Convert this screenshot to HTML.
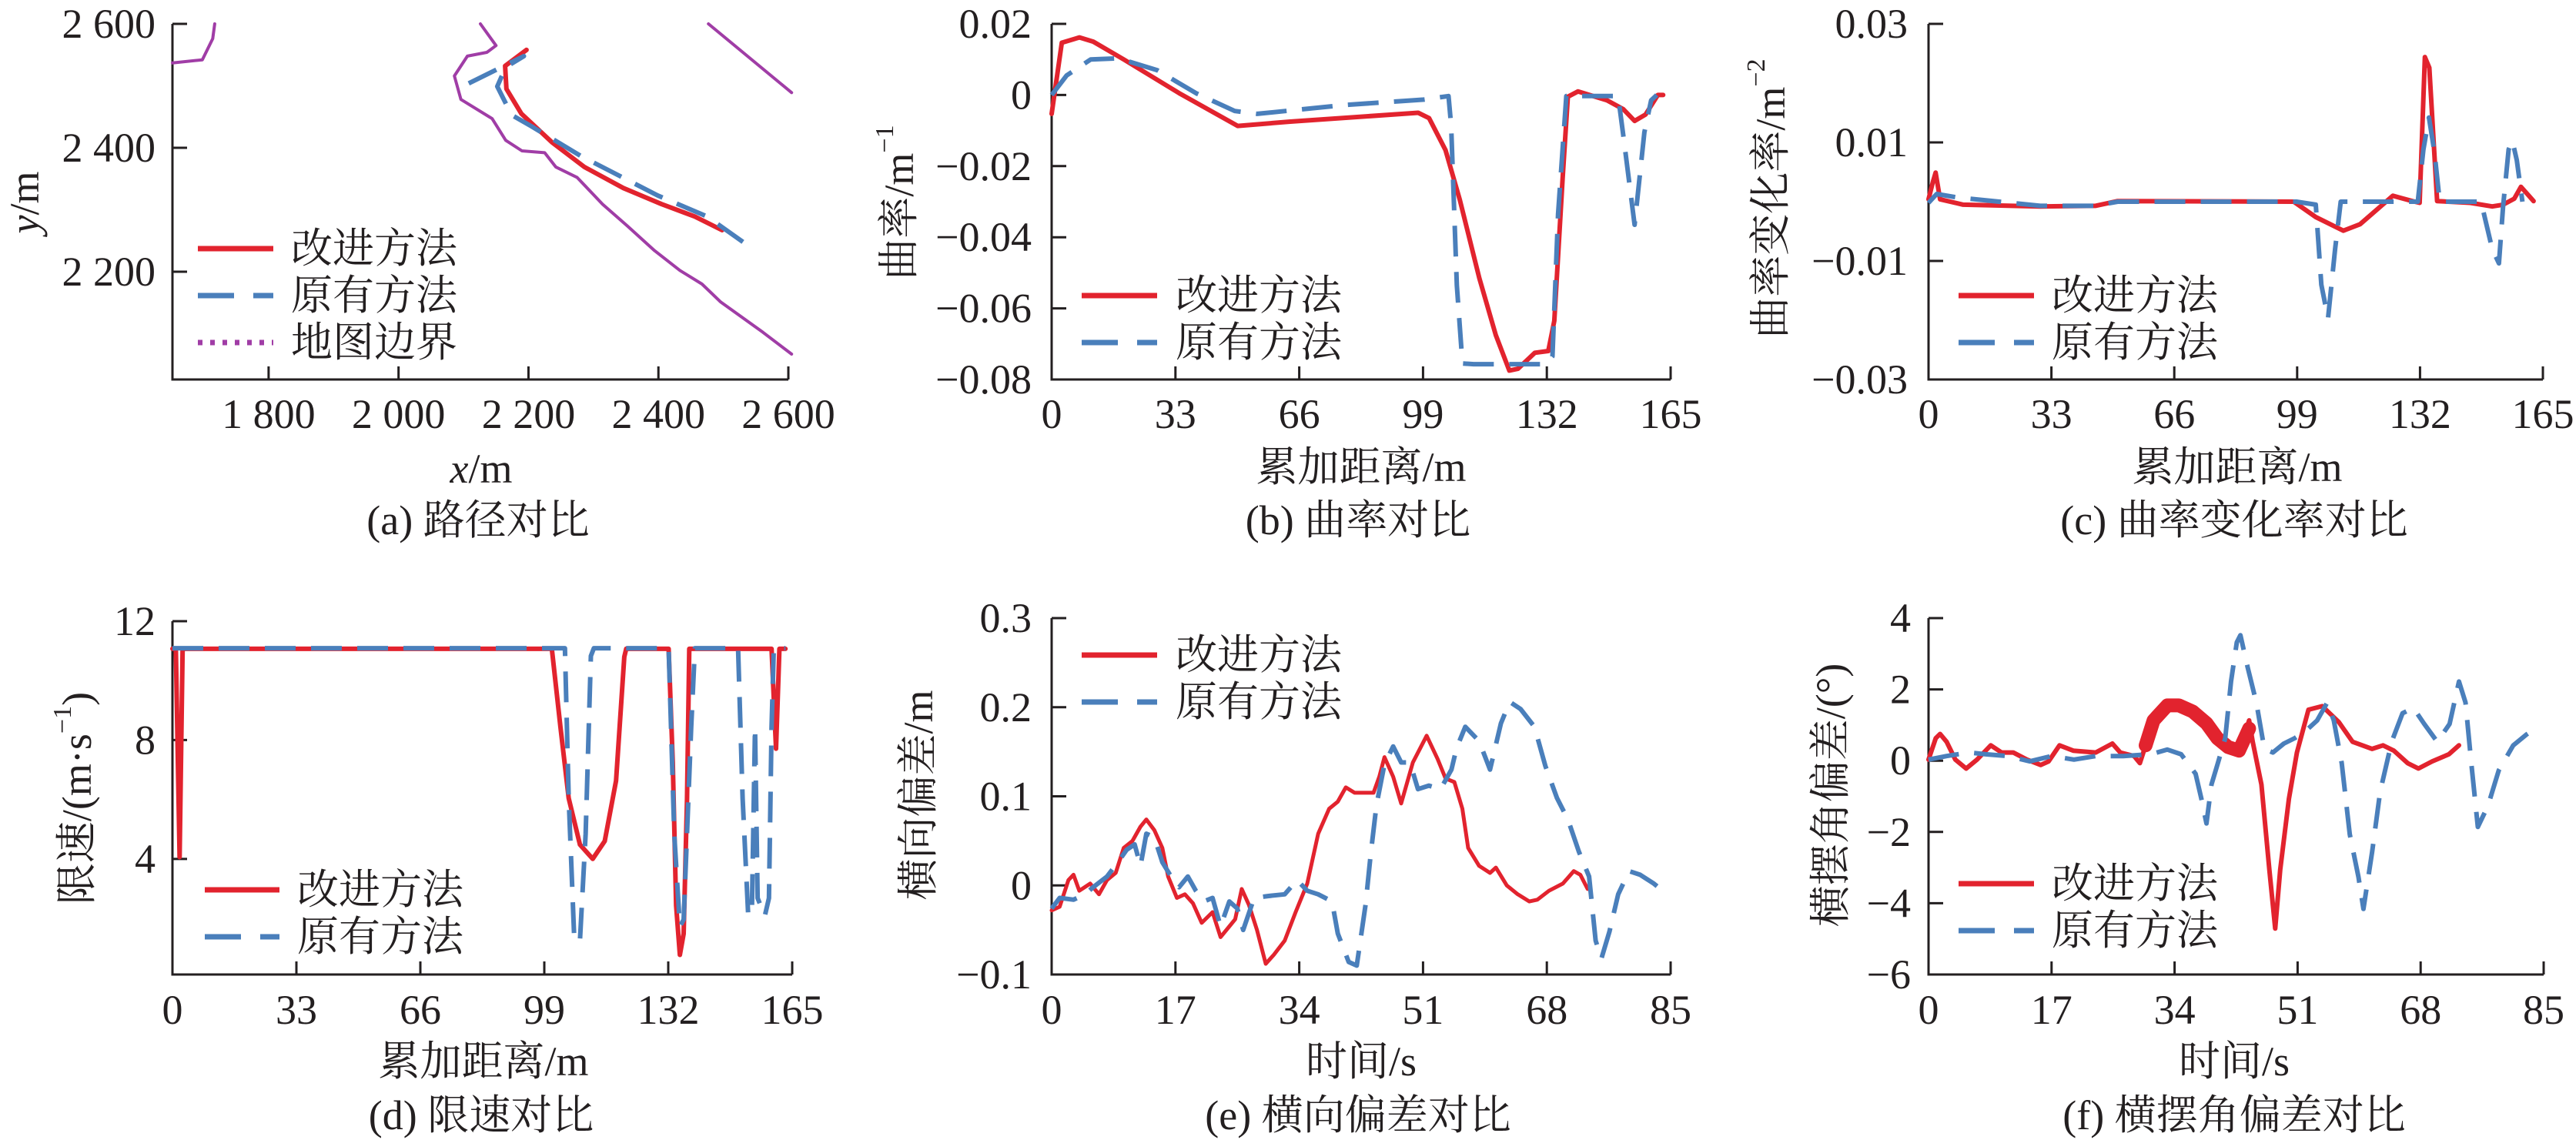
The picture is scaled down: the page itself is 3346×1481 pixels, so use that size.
<!DOCTYPE html>
<html><head><meta charset="utf-8">
<style>
html,body{margin:0;padding:0;background:#fff;}
svg{display:block;}
text{fill:#231f20;}
.tk{font-family:"Liberation Serif",serif;font-size:54px;}
.cj{font-family:"Liberation Serif","Noto Serif CJK SC",serif;font-size:54px;}
</style></head>
<body>
<svg id="fig" width="3346" height="1481" viewBox="0 0 3346 1481" xmlns="http://www.w3.org/2000/svg"></svg>
<script>
// ---------- Panel (a) path data ----------
const aRedX=[2197,2164,2166,2189,2236,2286,2346,2405,2456,2498];
const aRedY=[2558,2532,2495,2455,2409,2369,2335,2309,2289,2267];
const aBlueX=[2108,2193,2165,2152,2174,2204,2280,2399,2475,2545];
const aBlueY=[2504,2548,2530,2499,2453,2435,2387,2323,2289,2237];
const aB1X=[1652,1698,1714,1717];
const aB1Y=[2537,2542,2576,2600];
const aB2X=[2126,2150,2136,2106,2086,2096,2144,2165,2190,2225,2242,2275,2314,2352,2394,2433,2467,2496,2561,2605];
const aB2Y=[2600,2565,2554,2548,2516,2478,2447,2412,2395,2392,2369,2352,2309,2274,2234,2202,2180,2151,2102,2067];
const aB3X=[2477,2605];
const aB3Y=[2600,2489];
const aXTicks=[1800,2000,2200,2400,2600];
const aXLabels=["1 800","2 000","2 200","2 400","2 600"];
const aYTicks=[2200,2400,2600];
const aYLabels=["2 200","2 400","2 600"];
// ---------- Panel (b) curvature ----------
const bRedX=[0,2.7,7.4,11.1,19.2,34,49.6,63.6,97.7,100.6,105,108.8,114,118.4,122,124.3,128.8,132.4,134,136.2,137.6,140.3,148,152.4,155.4,158.3,161.6,163];
const bRedY=[-0.0053,0.0147,0.0162,0.015,0.010,0.0005,-0.0087,-0.0075,-0.005,-0.0065,-0.0155,-0.0295,-0.0515,-0.0675,-0.0775,-0.077,-0.0725,-0.072,-0.0635,-0.0235,-0.0005,0.001,-0.0015,-0.004,-0.0073,-0.0055,0,0];
const bBlueX=[0,4,10.4,17.8,28.1,38.5,48.8,54.8,78.4,99.2,105.8,106.5,108,109.5,112.5,131.7,133.5,135,137.2,151,152.4,155.4,158,159.8,161.3];
const bBlueY=[0,0.0055,0.010,0.0103,0.007,0.0005,-0.0045,-0.0053,-0.0028,-0.0013,-0.0003,-0.0085,-0.0535,-0.0755,-0.0757,-0.0757,-0.0735,-0.0335,-0.0003,-0.0003,-0.0115,-0.0365,-0.0105,-0.0015,0];
const distTicks=[0,33,66,99,132,165];
const bYTicks=[0.02,0,-0.02,-0.04,-0.06,-0.08];
const bYLabels=["0.02","0","\u22120.02","\u22120.04","\u22120.06","\u22120.08"];
// ---------- Panel (c) curvature rate ----------
const cRedX=[0,1.2,1.9,3.1,9.3,30,44.8,50.8,98.1,104,111.4,115.9,124.7,129.9,131.9,133.3,134.5,136.6,145.5,151.4,154.3,157.3,159.1,162.5];
const cRedY=[0.0004,0.0034,0.0049,0.0004,-0.0005,-0.0008,-0.0007,0.0001,0,-0.0026,-0.0049,-0.0038,0.001,0.0001,-0.0002,0.0244,0.0226,0.0001,-0.0002,-0.0008,-0.0005,0.0005,0.0025,0.0001];
const cBlueX=[0,2.2,7.8,30,44.8,50.8,98.8,104,105.5,107.3,109.2,110.7,131.4,132.9,134.4,135.9,137.3,148.4,151.4,153.2,154.3,155.8,156.8,158,159.5];
const cBlueY=[-0.0002,0.0013,0.0007,-0.0007,-0.0007,0,0,-0.0005,-0.014,-0.0197,-0.008,0,0,0.0088,0.0142,0.0082,0,0,-0.008,-0.0104,-0.0008,0.0088,0.0103,0.007,0];
const cYTicks=[0.03,0.01,-0.01,-0.03];
const cYLabels=["0.03","0.01","\u22120.01","\u22120.03"];
// ---------- Panel (d) speed limit ----------
const dRedX=[0,0.9,1.9,2.7,101,103.3,105.5,108.5,111.9,115.1,118.1,120.3,120.8,132.1,133.2,134.1,135.1,136.1,137,137.6,159.5,160.7,161.6,163.2];
const dRedY=[11.07,11.07,4.06,11.07,11.07,8.43,6.04,4.48,4.0,4.6,6.63,10.8,11.07,11.07,7.23,2.44,0.77,1.48,6.04,11.07,11.07,7.71,11.07,11.07];
const dBlueX=[0,104.5,105.5,107,108.5,110,111.4,112.2,132.1,133.6,135.1,136.1,138.1,139.1,150.6,151.8,153.3,154.3,155.1,155.8,157.7,158.8,159.5,160.1,163.2];
const dBlueY=[11.09,11.09,6.04,1.25,1.25,4.84,10.83,11.09,11.09,4.84,1.72,1.96,8.43,11.09,11.09,6.04,2.08,2.44,8.43,2.68,2.08,2.68,8.43,11.09,11.09];
const dYTicks=[4,8,12];
const dYLabels=["4","8","12"];
// ---------- Panel (e) lateral error ----------
const eRedX=[0,1.1,2.3,3.0,3.8,5.3,6.5,7.6,8.8,9.9,11.1,12.2,13.0,14.1,15.2,16.0,17.2,18.3,19.4,20.6,22.1,23.2,24.4,25.2,26.1,27.1,28.2,29.4,30.5,32.0,33.5,35.1,36.6,38.1,39.3,40.4,41.6,44.2,45.0,45.7,46.9,48.0,49.6,51.5,53.0,54.1,55.3,56.4,57.2,58.7,60.2,61.0,62.5,64.0,65.6,66.7,68.3,70.2,71.7,72.6,73.6];
const eRedY=[-0.028,-0.024,0.006,0.012,-0.006,0.002,-0.010,0.006,0.014,0.042,0.050,0.066,0.074,0.062,0.042,0.010,-0.014,-0.010,-0.020,-0.042,-0.030,-0.058,-0.046,-0.038,-0.004,-0.022,-0.050,-0.088,-0.078,-0.062,-0.030,0.002,0.058,0.086,0.094,0.110,0.104,0.104,0.122,0.144,0.122,0.092,0.138,0.168,0.142,0.120,0.116,0.086,0.042,0.022,0.014,0.020,0,-0.010,-0.018,-0.016,-0.006,0.002,0.016,0.012,-0.004];
const eBlueX=[0,1.1,3.0,4.6,5.7,7.6,9.1,10.3,11.4,12.2,13.0,14.1,15.2,16.4,17.5,18.7,19.8,20.9,22.1,23.2,24.4,25.5,26.3,27.8,29.7,32.0,33.7,35.1,36.6,38.5,39.3,40.8,41.9,43.1,43.8,44.6,45.7,46.9,48.0,49.2,50.3,51.8,53.4,54.9,55.6,56.8,58.7,60.2,61.7,62.9,64.4,66.3,67.8,69.4,70.9,72.4,73.8,74.7,75.5,76.6,77.8,79.3,80.8,82.7,84.5];
const eBlueY=[-0.026,-0.014,-0.016,-0.010,-0.002,0.010,0.026,0.040,0.046,0.022,0.058,0.054,0.026,0.010,-0.002,0.010,-0.006,-0.018,-0.014,-0.046,-0.018,-0.026,-0.050,-0.014,-0.012,-0.010,0.006,-0.006,-0.010,-0.018,-0.054,-0.086,-0.090,-0.022,0.034,0.090,0.136,0.156,0.138,0.138,0.108,0.112,0.108,0.130,0.154,0.178,0.162,0.130,0.182,0.206,0.198,0.178,0.134,0.098,0.074,0.038,0.010,-0.062,-0.082,-0.052,-0.010,0.016,0.012,0.002,-0.010];
const timeTicks=[0,17,34,51,68,85];
const eYTicks=[0.3,0.2,0.1,0,-0.1];
const eYLabels=["0.3","0.2","0.1","0","\u22120.1"];
// ---------- Panel (f) yaw error ----------
const fRedX=[0,1.0,1.6,2.5,3.7,5.2,6.7,8.6,10.1,11.7,13.6,15.5,16.6,18.1,20.0,23.1,25.4,26.5,28.4,29.2,30.0,31.1,33.0,34.6,36.5,38.4,39.9,41.4,42.9,44.3,44.8,46.0,47.1,47.9,48.6,49.8,50.9,52.5,54.4,56.7,58.6,61.3,62.8,64.3,66.2,67.7,69.6,71.9,73.3];
const fRedY=[0.03,0.63,0.75,0.53,0.03,-0.22,0.03,0.43,0.23,0.23,0.03,-0.12,-0.02,0.43,0.28,0.23,0.48,0.23,0.13,-0.07,0.43,1.13,1.63,1.63,1.43,1.08,0.63,0.33,0.23,1.13,0.53,-0.67,-3.06,-4.71,-3.06,-1.07,0.23,1.43,1.53,1.08,0.53,0.33,0.43,0.28,-0.07,-0.22,-0.02,0.18,0.43];
// noisy band section of improved yaw error (30–45 s)
const fBandX=[30.0,31.1,33.0,34.6,36.5,38.4,39.9,41.4,42.9,44.3];
const fBandY=[0.43,1.13,1.55,1.55,1.38,1.05,0.63,0.38,0.28,0.9];
const fBlueX=[0,2.5,5.6,7.9,10.9,14.0,17.0,20.1,23.1,26.9,30.7,33.0,34.9,36.9,37.7,38.4,39.1,39.9,41.0,41.8,42.6,43.1,44.1,45.3,46.4,47.6,49.1,50.6,52.1,53.7,55.1,56.0,57.1,58.2,59.4,60.1,61.3,62.4,64.0,65.5,67.0,68.5,70.3,72.0,73.3,74.2,75.0,75.9,77.3,78.8,80.8,82.6,84.1];
const fBlueY=[0.03,0.13,0.23,0.18,0.13,-0.02,0.13,0.03,0.13,0.13,0.18,0.31,0.18,-0.37,-1.07,-1.76,-0.67,-0.12,0.63,2.22,3.32,3.52,2.62,1.63,0.33,0.23,0.48,0.63,0.83,1.13,1.63,1.13,-0.07,-2.06,-3.26,-4.16,-2.56,-0.87,0.53,1.33,1.48,1.03,0.53,1.03,2.22,1.63,-0.07,-1.86,-1.27,-0.27,0.43,0.73,0.93];
const fYTicks=[4,2,0,-2,-4,-6];
const fYLabels=["4","2","0","\u22122","\u22124","\u22126"];

const NS="http://www.w3.org/2000/svg";
const svg=document.getElementById('fig');
const RED="#e2232e", BLUE="#4a7fbb", PURPLE="#a03da6", AX="#231f20";

function mk(tag,attrs,parent){const e=document.createElementNS(NS,tag);for(const k in attrs)e.setAttribute(k,attrs[k]);(parent||svg).appendChild(e);return e;}
function scale(d0,d1,p0,p1){return v=>p0+(v-d0)/(d1-d0)*(p1-p0);}

function txt(parent,x,y,s,cls,anchor,name){
  const t=mk('text',{x:x,y:y,class:cls,'text-anchor':anchor,'dominant-baseline':'central'},parent);
  
  
  t.textContent=s;return t;
}

function drawAxes(g,P,xs,ys,xTicks,xLabels,yTicks,yLabels,tickLabY,labRight){
  const ax=mk('path',{d:`M${P.l},${P.t} V${P.b} H${P.r}`,fill:'none',stroke:AX,'stroke-width':3},g);
  
  
  xTicks.forEach((v,i)=>{
    const x=xs(v);
    const tk=mk('line',{x1:x,y1:P.b,x2:x,y2:P.b-17,stroke:AX,'stroke-width':3},g);
    
    
    txt(g,x,tickLabY,xLabels[i],'tk','middle','x-tick-label');
  });
  yTicks.forEach((v,i)=>{
    const y=ys(v);
    const tk=mk('line',{x1:P.l,y1:y,x2:P.l+19,y2:y,stroke:AX,'stroke-width':3},g);
    
    
    txt(g,labRight,y,yLabels[i],'tk','end','y-tick-label');
  });
}
function series(g,X,Y,xs,ys,color,dash,w,name){
  const d=X.map((v,i)=>(i?'L':'M')+xs(v).toFixed(1)+','+ys(Y[i]).toFixed(1)).join(' ');
  const p=mk('path',{d:d,fill:'none',stroke:color,'stroke-width':w,'stroke-linejoin':'round','stroke-linecap':dash?'butt':'round'},g);
  if(dash)p.setAttribute('stroke-dasharray',dash);
  
  
  return p;
}
function legend(g,x1,x2,tx,y1,y2){
  const l1=mk('line',{x1:x1,y1:y1,x2:x2,y2:y1,stroke:RED,'stroke-width':7},g);
  
  
  txt(g,tx,y1,'改进方法','cj','start','legend-label-improved');
  const l2=mk('line',{x1:x1,y1:y2,x2:x2,y2:y2,stroke:BLUE,'stroke-width':7,'stroke-dasharray':'47 25'},g);
  
  
  txt(g,tx,y2,'原有方法','cj','start','legend-label-original');
}
function rotLabel(g,x,y,parts,name){
  const t=mk('text',{x:0,y:0,class:'cj','text-anchor':'middle','dominant-baseline':'central',transform:`translate(${x},${y}) rotate(-90)`},g);
  
  
  parts.forEach(p=>{const s=mk('tspan',{},t);if(p.sup){s.setAttribute('baseline-shift','super');s.setAttribute('font-size','34');}if(p.it)s.setAttribute('font-style','italic');s.textContent=p.s;});
  return t;
}
function group(name){const g=mk('g',{});return g;}

// ----- (a)
(function(){
  const g=group('panel-a-path');
  const P={l:224,r:1024,t:31,b:493};
  const xs=scale(1652,2600,P.l,P.r), ys=scale(2026,2600,P.b,P.t);
  drawAxes(g,P,xs,ys,aXTicks,aXLabels,aYTicks,aYLabels,538,202);
  series(g,aB1X,aB1Y,xs,ys,PURPLE,null,4,'map-boundary-1');
  series(g,aB2X,aB2Y,xs,ys,PURPLE,null,4,'map-boundary-2');
  series(g,aB3X,aB3Y,xs,ys,PURPLE,null,4,'map-boundary-3');
  series(g,aRedX,aRedY,xs,ys,RED,null,6,'series-improved');
  series(g,aBlueX,aBlueY,xs,ys,BLUE,'40 20',6,'series-original');
  legend(g,257,355,378,323,384);
  const l3=mk('line',{x1:257,y1:445,x2:355,y2:445,stroke:PURPLE,'stroke-width':7,'stroke-dasharray':'6 10'},g);
  
  
  txt(g,378,445,'地图边界','cj','start','legend-label-boundary');
  const xl=mk('text',{x:625,y:609,class:'cj','text-anchor':'middle','dominant-baseline':'central'},g);
  
  
  xl.innerHTML='<tspan font-style="italic">x</tspan>/m';
  rotLabel(g,32,263,[{s:'y',it:true},{s:'/m'}],'y-axis-title');
  txt(g,621,676,'(a) 路径对比','cj','middle','caption-a');
})();
// ----- (b)
(function(){
  const g=group('panel-b-curvature');
  const P={l:1366,r:2170,t:31,b:493};
  const xs=scale(0,165,P.l,P.r), ys=scale(-0.08,0.02,P.b,P.t);
  drawAxes(g,P,xs,ys,distTicks,distTicks.map(String),bYTicks,bYLabels,538,1340);
  series(g,bRedX,bRedY,xs,ys,RED,null,6,'series-improved');
  series(g,bBlueX,bBlueY,xs,ys,BLUE,'40 20',6,'series-original');
  legend(g,1405,1503,1527,384,445);
  txt(g,1768,607,'累加距离/m','cj','middle','x-axis-title');
  rotLabel(g,1168,263,[{s:'曲率/m'},{s:'−1',sup:true}],'y-axis-title');
  txt(g,1764,676,'(b) 曲率对比','cj','middle','caption-b');
})();
// ----- (c)
(function(){
  const g=group('panel-c-curvature-rate');
  const P={l:2505,r:3303,t:31,b:493};
  const xs=scale(0,165,P.l,P.r), ys=scale(-0.03,0.03,P.b,P.t);
  drawAxes(g,P,xs,ys,distTicks,distTicks.map(String),cYTicks,cYLabels,538,2478);
  series(g,cRedX,cRedY,xs,ys,RED,null,6,'series-improved');
  series(g,cBlueX,cBlueY,xs,ys,BLUE,'40 20',6,'series-original');
  legend(g,2544,2642,2665,384,445);
  txt(g,2906,607,'累加距离/m','cj','middle','x-axis-title');
  rotLabel(g,2300,258,[{s:'曲率变化率/m'},{s:'−2',sup:true}],'y-axis-title');
  txt(g,2902,676,'(c) 曲率变化率对比','cj','middle','caption-c');
})();
// ----- (d)
(function(){
  const g=group('panel-d-speed-limit');
  const P={l:224,r:1029,t:807,b:1266};
  const xs=scale(0,165,P.l,P.r), ys=scale(0.11,12,P.b,P.t);
  drawAxes(g,P,xs,ys,distTicks,distTicks.map(String),dYTicks,dYLabels,1312,202);
  series(g,dRedX,dRedY,xs,ys,RED,null,6,'series-improved');
  series(g,dBlueX,dBlueY,xs,ys,BLUE,'40 20',6,'series-original');
  legend(g,266,363,386,1156,1217);
  txt(g,628,1379,'累加距离/m','cj','middle','x-axis-title');
  rotLabel(g,100,1037,[{s:'限速/(m·s'},{s:'−1',sup:true},{s:')'}],'y-axis-title');
  txt(g,625,1449,'(d) 限速对比','cj','middle','caption-d');
})();
// ----- (e)
(function(){
  const g=group('panel-e-lateral-error');
  const P={l:1366,r:2170,t:803,b:1266};
  const xs=scale(0,85,P.l,P.r), ys=scale(-0.1,0.3,P.b,P.t);
  drawAxes(g,P,xs,ys,timeTicks,timeTicks.map(String),eYTicks,eYLabels,1312,1340);
  series(g,eRedX,eRedY,xs,ys,RED,null,5,'series-improved');
  series(g,eBlueX,eBlueY,xs,ys,BLUE,'40 20',6,'series-original');
  legend(g,1405,1503,1527,851,912);
  txt(g,1768,1379,'时间/s','cj','middle','x-axis-title');
  rotLabel(g,1193,1033,[{s:'横向偏差/m'}],'y-axis-title');
  txt(g,1764,1449,'(e) 横向偏差对比','cj','middle','caption-e');
})();
// ----- (f)
(function(){
  const g=group('panel-f-yaw-error');
  const P={l:2505,r:3304,t:803,b:1266};
  const xs=scale(0,85,P.l,P.r), ys=scale(-6,4,P.b,P.t);
  drawAxes(g,P,xs,ys,timeTicks,timeTicks.map(String),fYTicks,fYLabels,1312,2482);
  series(g,fRedX,fRedY,xs,ys,RED,null,6,'series-improved');
  series(g,fBandX,fBandY,xs,ys,RED,null,18,'series-improved-noise-band');
  series(g,fBlueX,fBlueY,xs,ys,BLUE,'40 20',6,'series-original');
  legend(g,2544,2642,2665,1148,1209);
  txt(g,2902,1379,'时间/s','cj','middle','x-axis-title');
  rotLabel(g,2378,1033,[{s:'横摆角偏差/(°)'}],'y-axis-title');
  txt(g,2902,1449,'(f) 横摆角偏差对比','cj','middle','caption-f');
})();
</script>
</body></html>
